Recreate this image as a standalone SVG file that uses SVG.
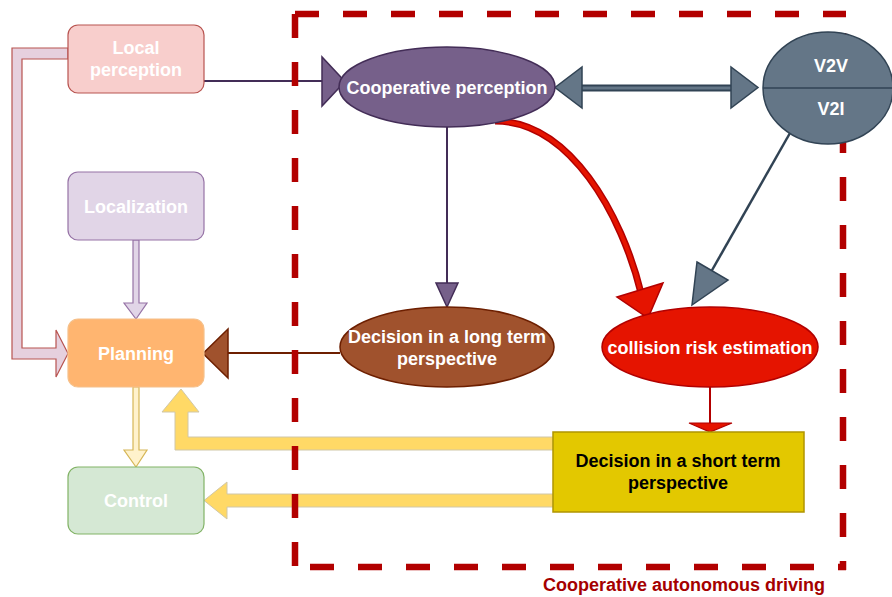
<svg xmlns="http://www.w3.org/2000/svg" width="892" height="597" viewBox="0 0 892 597">
<style>
text{font-family:"Liberation Sans",Arial,sans-serif;font-weight:bold;font-size:18px;text-anchor:middle}
.w{fill:#ffffff}
.k{fill:#000000}
.dash{stroke:#b20000;stroke-width:6.5;fill:none;stroke-dasharray:24 24}
</style>
<rect width="892" height="597" fill="#ffffff"/>
<g id="connectors">
  <!-- Local perception -> Planning (flex) -->
  <polygon points="68,48 12,48 12,359 56,359 56,377 68,353.5 56,330 56,348 22,348 22,59 68,59" fill="#e6d0de" stroke="#b85450" stroke-width="1.2"/>
  <!-- Localization -> Planning -->
  <polygon points="133,240 139,240 139,303 147,303 136,319 124,303 133,303" fill="#e1d5e7" stroke="#9673a6" stroke-width="1.2"/>
  <!-- Planning -> Control -->
  <polygon points="133,387 139,387 139,450 147,450 136,467 124,450 133,450" fill="#fff2cc" stroke="#d6b656" stroke-width="1.2"/>
  <!-- Local perception -> Cooperative perception -->
  <line x1="204" y1="81" x2="324" y2="81" stroke="#432d57" stroke-width="2"/>
  <polygon points="322,57 322,106 345,81.5" fill="#76608a" stroke="#432d57" stroke-width="1.5"/>
  <!-- Cooperative perception <-> V2V -->
  <line x1="580" y1="88" x2="733" y2="88" stroke="#314354" stroke-width="7"/>
  <line x1="580" y1="88" x2="733" y2="88" stroke="#647687" stroke-width="3"/>
  <polygon points="582,67 582,108 555,87.5" fill="#647687" stroke="#314354" stroke-width="1.5"/>
  <polygon points="731,67 731,108 758,87.5" fill="#647687" stroke="#314354" stroke-width="1.5"/>
  <!-- Cooperative perception -> Decision long -->
  <line x1="447" y1="127" x2="447" y2="284" stroke="#432d57" stroke-width="2"/>
  <polygon points="436,283 458,283 447,307" fill="#76608a" stroke="#432d57" stroke-width="1.5"/>
  <!-- Cooperative perception -> collision (curve) -->
  <path d="M495,121 C570,121 622,215 641,293" fill="none" stroke="#b20000" stroke-width="7"/>
  <path d="M495,121 C570,121 622,215 641,293" fill="none" stroke="#e51400" stroke-width="4"/>
  <polygon points="617,297 663,283 648,318" fill="#e51400" stroke="#b20000" stroke-width="1.5"/>
  <!-- V2V -> collision -->
  <line x1="790" y1="133" x2="711" y2="272" stroke="#314354" stroke-width="2.5"/>
  <polygon points="697,262 728,280 692,305" fill="#647687" stroke="#314354" stroke-width="1.5"/>
  <!-- Decision long -> Planning -->
  <line x1="340" y1="353" x2="228" y2="353" stroke="#6d1f00" stroke-width="2"/>
  <polygon points="228,329 228,378 203,353.5" fill="#a0522d" stroke="#6d1f00" stroke-width="1.5"/>
  <!-- collision -> Decision short -->
  <line x1="710" y1="387" x2="710" y2="424" stroke="#b20000" stroke-width="2"/>
  <polygon points="689,423 732,423 710,432" fill="#e51400" stroke="#b20000" stroke-width="1.2"/>
  <!-- Decision short -> Planning -->
  <polygon points="553,437 188,437 188,412 199,412 181,389 162,412 175,412 175,450 553,450" fill="#ffd966" stroke="#d0c7a8" stroke-width="1"/>
  <!-- Decision short -> Control -->
  <polygon points="553,494 227,494 227,482 204,500.5 227,519 227,507 553,507" fill="#ffd966" stroke="#d0c7a8" stroke-width="1"/>
</g>
<g id="container">
  <line class="dash" x1="295" y1="14" x2="846" y2="14"/>
  <line class="dash" x1="843" y1="14" x2="843" y2="570" stroke-dashoffset="29"/>
  <line class="dash" x1="295" y1="567" x2="846" y2="567" stroke-dashoffset="33"/>
  <line class="dash" x1="295" y1="14" x2="295" y2="567"/>
  <text x="684" y="591" fill="#a50000" font-size="18">Cooperative autonomous driving</text>
</g>
<g id="local-perception">
  <rect x="68" y="25" width="136" height="68" rx="10" fill="#f8cecc" stroke="#b85450" stroke-width="1.2"/>
  <text class="w" x="136" y="54">Local</text>
  <text class="w" x="136" y="76">perception</text>
</g>
<g id="localization">
  <rect x="68" y="172" width="136" height="68" rx="10" fill="#e1d5e7" stroke="#9673a6" stroke-width="1.2"/>
  <text class="w" x="136" y="213">Localization</text>
</g>
<g id="planning">
  <rect x="68" y="319" width="136" height="68" rx="10" fill="#ffb570" stroke="#f5c08a" stroke-width="1.2"/>
  <text class="w" x="136" y="360">Planning</text>
</g>
<g id="control">
  <rect x="68" y="467" width="136" height="67" rx="10" fill="#d5e8d4" stroke="#82b366" stroke-width="1.2"/>
  <text class="w" x="136" y="507">Control</text>
</g>
<g id="cooperative-perception">
  <ellipse cx="447" cy="87" rx="108" ry="40" fill="#76608a" stroke="#432d57" stroke-width="1.5"/>
  <text class="w" x="447" y="94">Cooperative perception</text>
</g>
<g id="v2x">
  <ellipse cx="828" cy="88" rx="65" ry="56" fill="#647687" stroke="#314354" stroke-width="1.5"/>
  <line x1="763" y1="88" x2="893" y2="88" stroke="#314354" stroke-width="1.5"/>
  <text class="w" x="831" y="72">V2V</text>
  <text class="w" x="831" y="115">V2I</text>
</g>
<g id="decision-long">
  <ellipse cx="447" cy="347" rx="107" ry="40" fill="#a0522d" stroke="#6d1f00" stroke-width="1.5"/>
  <text class="w" x="447" y="343">Decision in a long term</text>
  <text class="w" x="447" y="365">perspective</text>
</g>
<g id="collision">
  <ellipse cx="710" cy="347" rx="108" ry="40" fill="#e51400" stroke="#b20000" stroke-width="1.5"/>
  <text class="w" x="710" y="354">collision risk estimation</text>
</g>
<g id="decision-short">
  <rect x="553" y="432" width="251" height="80" fill="#e3c800" stroke="#b09500" stroke-width="1.5"/>
  <text class="k" x="678" y="467">Decision in a short term</text>
  <text class="k" x="678" y="489">perspective</text>
</g>
</svg>
